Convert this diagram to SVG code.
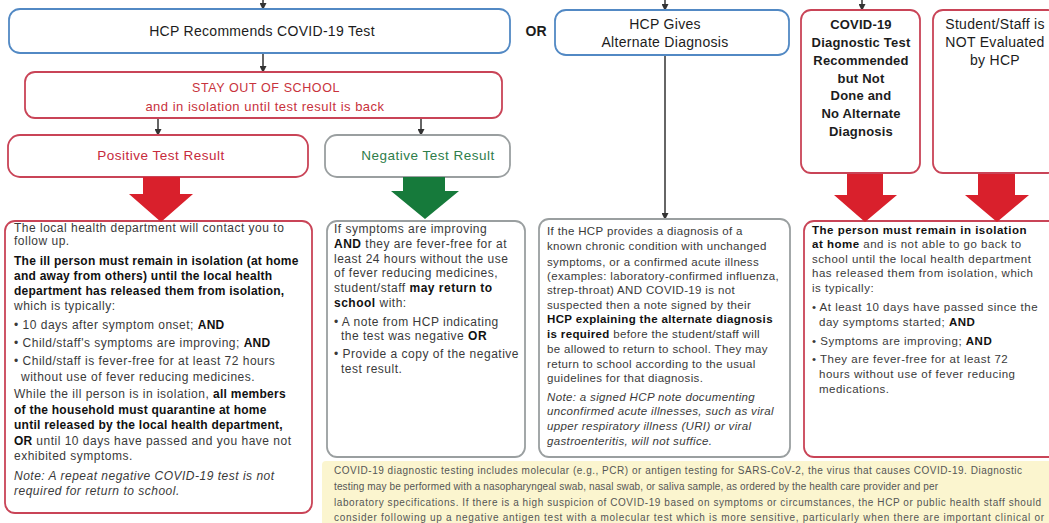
<svg xmlns="http://www.w3.org/2000/svg" width="1049" height="523" viewBox="0 0 1049 523">
  <defs>
    <marker id="tip" markerUnits="userSpaceOnUse" markerWidth="7" markerHeight="7" refX="6" refY="3.5" orient="auto">
      <path d="M0,0 L7,3.5 L0,7 z" fill="#333"/>
    </marker>
    <style>
      text { font-family: "Liberation Sans", Arial, sans-serif; }
      .box { fill: #fff; stroke-width: 1.8; }
      .blue { stroke: #5289c4; }
      .red { stroke: #c94457; }
      .grey { stroke: #9a9fa0; }
      .link { stroke: #333; stroke-width: 1.5; fill: none; marker-end: url(#tip); }
      .head { font-size: 14px; fill: #1c1c1c; text-anchor: middle; letter-spacing: 0.3px; }
      .headb { font-size: 13px; font-weight: bold; fill: #1c1c1c; text-anchor: middle; letter-spacing: 0.2px; }
      .result { font-size: 13.5px; text-anchor: middle; letter-spacing: 0.5px; }
      .body { font-size: 12px; fill: #3a3a3a; letter-spacing: 0.5px; }
      .body-s { font-size: 11.5px; fill: #3a3a3a; letter-spacing: 0.35px; }
      .body-r { font-size: 11.5px; fill: #3a3a3a; letter-spacing: 0.5px; }
      .b { font-weight: bold; fill: #111; }
      .tight .b { letter-spacing: 0.25px; }
      .i { font-style: italic; }
      .note { font-size: 10px; fill: #555; }
    </style>
  </defs>

  <!-- connectors -->
  <g id="connectors">
    <line class="link" x1="263" y1="0" x2="263" y2="9"/>
    <line class="link" x1="665" y1="0" x2="665" y2="10"/>
    <line class="link" x1="862" y1="0" x2="862" y2="10"/>
    <line class="link" x1="263" y1="53" x2="263" y2="72"/>
    <line class="link" x1="158" y1="118" x2="158" y2="135"/>
    <line class="link" x1="421" y1="118" x2="421" y2="135"/>
    <line class="link" x1="665" y1="55" x2="665" y2="219"/>
  </g>

  <!-- top row -->
  <g id="hcp-test">
    <rect class="box blue" x="9" y="9" width="501" height="44" rx="11"/>
    <text class="head" x="262" y="36">HCP Recommends COVID-19 Test</text>
  </g>
  <text x="536" y="36" font-size="14" font-weight="bold" fill="#1c1c1c" text-anchor="middle">OR</text>
  <g id="hcp-alternate">
    <rect class="box blue" x="555" y="10" width="234" height="45" rx="11"/>
    <text class="head" x="665" y="29">HCP Gives</text>
    <text class="head" x="665" y="47">Alternate Diagnosis</text>
  </g>
  <g id="not-done">
    <rect class="box red" x="801" y="10" width="119" height="163" rx="10"/>
    <text class="headb" x="861" y="29">COVID-19</text>
    <text class="headb" x="861" y="47">Diagnostic Test</text>
    <text class="headb" x="861" y="65">Recommended</text>
    <text class="headb" x="861" y="83">but Not</text>
    <text class="headb" x="861" y="100">Done and</text>
    <text class="headb" x="861" y="118">No Alternate</text>
    <text class="headb" x="861" y="136">Diagnosis</text>
  </g>
  <g id="not-evaluated">
    <rect class="box red" x="933" y="10" width="125" height="163" rx="10"/>
    <text class="head" x="995" y="29">Student/Staff is</text>
    <text class="head" x="995" y="47">NOT Evaluated</text>
    <text class="head" x="995" y="65">by HCP</text>
  </g>

  <!-- waiting for result -->
  <g id="stay-out">
    <rect class="box red" x="25" y="72" width="477" height="46" rx="10"/>
    <text x="266" y="92" font-size="12.5" fill="#c8323c" text-anchor="middle" letter-spacing="0.6">STAY OUT OF SCHOOL</text>
    <text x="265" y="111" font-size="13" fill="#c8323c" text-anchor="middle" letter-spacing="0.5">and in isolation until test result is back</text>
  </g>

  <g id="positive">
    <rect class="box red" x="8" y="135" width="300" height="42" rx="12"/>
    <text class="result" x="161" y="160" fill="#c62a3c">Positive Test Result</text>
  </g>
  <g id="negative">
    <rect class="box grey" x="325" y="135" width="185" height="42" rx="12"/>
    <text class="result" x="428" y="160" fill="#2e7d4a">Negative Test Result</text>
  </g>

  <!-- outcome boxes -->
  <g id="positive-detail">
    <rect class="box red" x="5" y="221" width="307" height="292" rx="10"/>
    <text class="body tight">
      <tspan x="14" y="232">The local health department will contact you to</tspan>
      <tspan x="14" y="245">follow up.</tspan>
      <tspan x="14" y="265" class="b">The ill person must remain in isolation (at home</tspan>
      <tspan x="14" y="280" class="b">and away from others) until the local health</tspan>
      <tspan x="14" y="295" class="b">department has released them from isolation,</tspan>
      <tspan x="14" y="310">which is typically:</tspan>
      <tspan x="14" y="329">• 10 days after symptom onset; <tspan class="b">AND</tspan></tspan>
      <tspan x="14" y="347">• Child/staff's symptoms are improving; <tspan class="b">AND</tspan></tspan>
      <tspan x="14" y="365">• Child/staff is fever-free for at least 72 hours</tspan>
      <tspan x="21" y="381">without use of fever reducing medicines.</tspan>
      <tspan x="14" y="398">While the ill person is in isolation, <tspan class="b">all members</tspan></tspan>
      <tspan x="14" y="414" class="b">of the household must quarantine at home</tspan>
      <tspan x="14" y="429" class="b">until released by the local health department,</tspan>
      <tspan x="14" y="445"><tspan class="b">OR</tspan> until 10 days have passed and you have not</tspan>
      <tspan x="14" y="460">exhibited symptoms.</tspan>
      <tspan x="14" y="480" class="i">Note: A repeat negative COVID-19 test is not</tspan>
      <tspan x="14" y="495" class="i">required for return to school.</tspan>
    </text>
  </g>

  <g id="negative-detail">
    <rect class="box grey" x="327" y="221" width="198" height="236" rx="10"/>
    <text class="body">
      <tspan x="334" y="233">If symptoms are improving</tspan>
      <tspan x="334" y="248"><tspan class="b">AND</tspan> they are fever-free for at</tspan>
      <tspan x="334" y="263">least 24 hours without the use</tspan>
      <tspan x="334" y="277">of fever reducing medicines,</tspan>
      <tspan x="334" y="292">student/staff <tspan class="b">may return to</tspan></tspan>
      <tspan x="334" y="307"><tspan class="b">school</tspan> with:</tspan>
      <tspan x="334" y="326">• A note from HCP indicating</tspan>
      <tspan x="341" y="340">the test was negative <tspan class="b">OR</tspan></tspan>
      <tspan x="334" y="358">• Provide a copy of the negative</tspan>
      <tspan x="341" y="373">test result.</tspan>
    </text>
  </g>

  <g id="alternate-detail">
    <rect class="box grey" x="539" y="219" width="251" height="238" rx="10"/>
    <text class="body-s">
      <tspan x="547" y="235">If the HCP provides a diagnosis of a</tspan>
      <tspan x="547" y="250">known chronic condition with unchanged</tspan>
      <tspan x="547" y="266">symptoms, or a confirmed acute illness</tspan>
      <tspan x="547" y="280">(examples: laboratory-confirmed influenza,</tspan>
      <tspan x="547" y="294">strep-throat) AND COVID-19 is not</tspan>
      <tspan x="547" y="309">suspected then a note signed by their</tspan>
      <tspan x="547" y="323" class="b">HCP explaining the alternate diagnosis</tspan>
      <tspan x="547" y="338"><tspan class="b">is required</tspan> before the student/staff will</tspan>
      <tspan x="547" y="353">be allowed to return to school. They may</tspan>
      <tspan x="547" y="368">return to school according to the usual</tspan>
      <tspan x="547" y="382">guidelines for that diagnosis.</tspan>
      <tspan x="547" y="401" class="i">Note: a signed HCP note documenting</tspan>
      <tspan x="547" y="415" class="i">unconfirmed acute illnesses, such as viral</tspan>
      <tspan x="547" y="430" class="i">upper respiratory illness (URI) or viral</tspan>
      <tspan x="547" y="445" class="i">gastroenteritis, will not suffice.</tspan>
    </text>
  </g>

  <g id="isolation-detail">
    <rect class="box red" x="804" y="221" width="260" height="236" rx="10"/>
    <text class="body-r">
      <tspan x="812" y="234" class="b">The person must remain in isolation</tspan>
      <tspan x="812" y="248"><tspan class="b">at home</tspan> and is not able to go back to</tspan>
      <tspan x="812" y="263">school until the local health department</tspan>
      <tspan x="812" y="277">has released them from isolation, which</tspan>
      <tspan x="812" y="292">is typically:</tspan>
      <tspan x="812" y="311">• At least 10 days have passed since the</tspan>
      <tspan x="819" y="326">day symptoms started; <tspan class="b">AND</tspan></tspan>
      <tspan x="812" y="345">• Symptoms are improving; <tspan class="b">AND</tspan></tspan>
      <tspan x="812" y="363">• They are fever-free for at least 72</tspan>
      <tspan x="819" y="378">hours without use of fever reducing</tspan>
      <tspan x="819" y="393">medications.</tspan>
    </text>
  </g>

  <!-- block arrows into the outcome boxes -->
  <g id="block-arrows">
    <polygon points="143,177 180,177 180,194 193,194 161,222 129,194 143,194" fill="#d9202c"/>
    <polygon points="403,177 445,177 445,191 459,191 425,219 391,191 403,191" fill="#167a3b"/>
    <polygon points="847,174 883,174 883,195 897,195 865,222 834,195 847,195" fill="#d9202c"/>
    <polygon points="978,174 1015,174 1015,195 1029,195 997,222 965,195 978,195" fill="#d9202c"/>
  </g>

  <!-- testing note -->
  <g id="testing-note">
    <rect x="322" y="461" width="740" height="70" rx="4" fill="#fbf5cf"/>
    <text class="note">
      <tspan x="334" y="474" textLength="688">COVID-19 diagnostic testing includes molecular (e.g., PCR) or antigen testing for SARS-CoV-2, the virus that causes COVID-19. Diagnostic</tspan>
      <tspan x="334" y="490" textLength="604">testing may be performed with a nasopharyngeal swab, nasal swab, or saliva sample, as ordered by the health care provider and per</tspan>
      <tspan x="334" y="506" textLength="707">laboratory specifications. If there is a high suspicion of COVID-19 based on symptoms or circumstances, the HCP or public health staff should</tspan>
      <tspan x="334" y="521" textLength="710">consider following up a negative antigen test with a molecular test which is more sensitive, particularly when there are important clinical or</tspan>
    </text>
  </g>
</svg>
